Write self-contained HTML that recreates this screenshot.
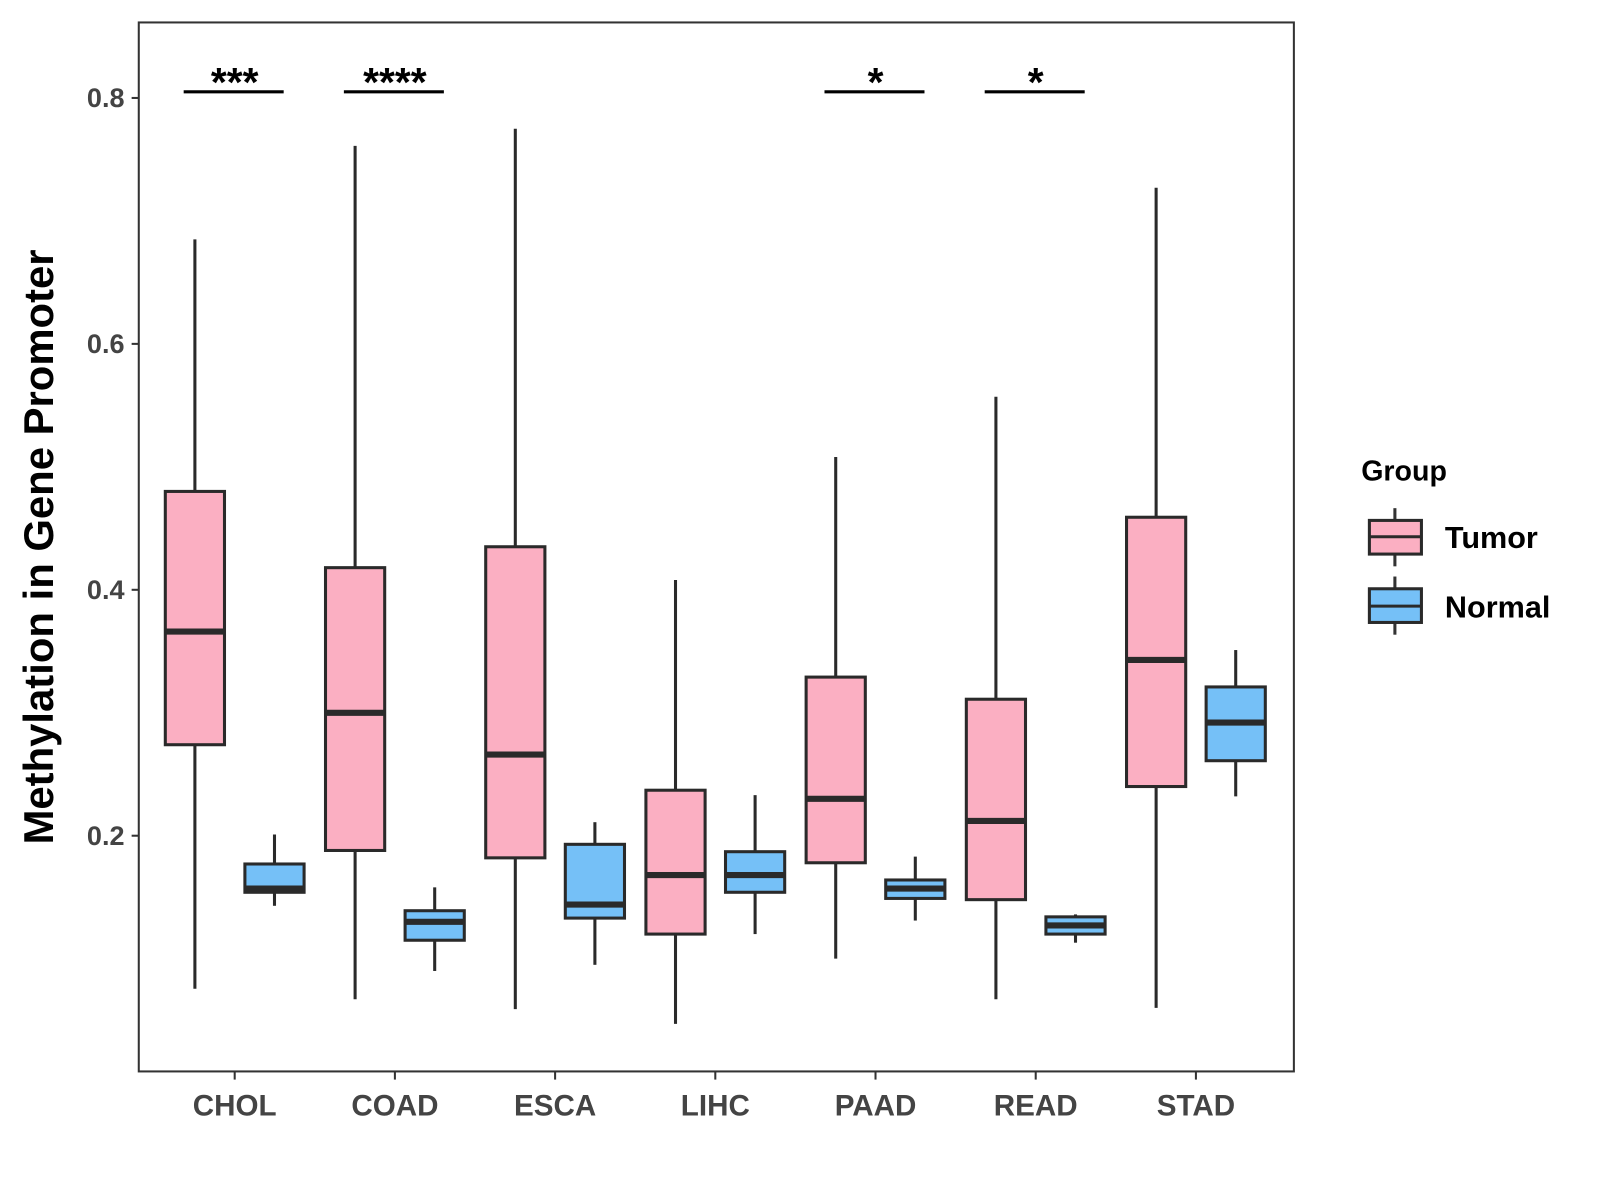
<!DOCTYPE html>
<html><head><meta charset="utf-8"><style>html,body{margin:0;padding:0;background:#fff}svg{display:block}text{font-family:"Liberation Sans",Arial,sans-serif;font-weight:bold}</style></head>
<body>
<svg id="chart" width="1600" height="1200" viewBox="0 0 1568 1176" xmlns="http://www.w3.org/2000/svg">
<rect x="0" y="0" width="1568" height="1176" fill="#fff"/>
<rect x="136" y="22" width="1132" height="1028" fill="none" stroke="#333" stroke-width="2"/>
<g id="yaxis"></g>
<g id="xaxis"></g>
<g id="boxes"></g>
<g id="sig"></g>
<text x="52" y="536" font-size="41" fill="#000" text-anchor="middle" transform="rotate(-90 52 536)">Methylation in Gene Promoter</text>
<g>
<text x="1334" y="471" font-size="28" fill="#000">Group</text>
<g>
<line x1="1367" y1="498" x2="1367" y2="555" stroke="#333" stroke-width="3"/>
<rect x="1342" y="510" width="51" height="33" fill="#FBAFC2" stroke="#2a2a2a" stroke-width="3"/>
<line x1="1342" y1="526" x2="1393" y2="526" stroke="#2a2a2a" stroke-width="3"/>
<text x="1416" y="537" font-size="30" fill="#000">Tumor</text>
</g>
<g>
<line x1="1367" y1="565" x2="1367" y2="622" stroke="#333" stroke-width="3"/>
<rect x="1342" y="577" width="51" height="33" fill="#75C0F7" stroke="#2a2a2a" stroke-width="3"/>
<line x1="1342" y1="594" x2="1393" y2="594" stroke="#2a2a2a" stroke-width="3"/>
<text x="1416" y="605" font-size="30" fill="#000">Normal</text>
</g>
</g>
</svg>
<script>
const categories = ["CHOL","COAD","ESCA","LIHC","PAAD","READ","STAD"];
// [low, q1, median, q3, high]
const tumorStats = [
 [0.0755,0.274,0.366,0.480,0.685],
 [0.067,0.188,0.300,0.418,0.761],
 [0.059,0.182,0.266,0.435,0.775],
 [0.047,0.120,0.168,0.237,0.408],
 [0.100,0.178,0.230,0.329,0.508],
 [0.067,0.148,0.212,0.311,0.557],
 [0.060,0.240,0.343,0.459,0.727]
];
const normalStats = [
 [0.143,0.154,0.157,0.177,0.201],
 [0.090,0.115,0.130,0.139,0.158],
 [0.095,0.133,0.144,0.193,0.211],
 [0.120,0.154,0.168,0.187,0.233],
 [0.131,0.149,0.157,0.164,0.183],
 [0.113,0.120,0.127,0.134,0.136],
 [0.232,0.261,0.292,0.321,0.351]
];
const yTicks = [0.2,0.4,0.6,0.8];
const sigLabels = ["***","****","","","*","*",""];
const sigY = 0.805;

const NS="http://www.w3.org/2000/svg";
const yScale = v => 1060 - v*1205;
const xScale = i => 230 + i*157;
function mk(tag, attrs, parent){const e=document.createElementNS(NS,tag);for(const k in attrs)e.setAttribute(k,attrs[k]);parent.appendChild(e);return e;}
const yaxis=document.getElementById('yaxis'), xaxis=document.getElementById('xaxis'), boxes=document.getElementById('boxes'), sig=document.getElementById('sig');
yTicks.forEach(t=>{
  const y=yScale(t);
  const l=mk('line',{x1:129,x2:136,y1:y,y2:y,stroke:'#333','stroke-width':2},yaxis);
  
  
  const tx=mk('text',{x:122,y:y+9,'font-size':26.5,fill:'#444','text-anchor':'end'},yaxis);
  tx.textContent=t.toFixed(1);
  
  
});
categories.forEach((c,i)=>{
  const x=xScale(i);
  const l=mk('line',{x1:x,x2:x,y1:1050,y2:1058,stroke:'#333','stroke-width':2},xaxis);
  
  
  const tx=mk('text',{x:x,y:1093,'font-size':29,fill:'#444','text-anchor':'middle'},xaxis);
  tx.textContent=c;
  
  
});
function drawBox(s, cx, fill, name){
  const g=mk('g',{},boxes);
  
  
  const w=29;
  mk('line',{x1:cx,x2:cx,y1:yScale(s[4]),y2:yScale(s[3]),stroke:'#2a2a2a','stroke-width':3},g);
  mk('line',{x1:cx,x2:cx,y1:yScale(s[1]),y2:yScale(s[0]),stroke:'#2a2a2a','stroke-width':3},g);
  mk('rect',{x:cx-w,y:yScale(s[3]),width:2*w,height:yScale(s[1])-yScale(s[3]),fill:fill,stroke:'#2a2a2a','stroke-width':3},g);
  mk('line',{x1:cx-w,x2:cx+w,y1:yScale(s[2]),y2:yScale(s[2]),stroke:'#2a2a2a','stroke-width':6},g);
}
categories.forEach((c,i)=>{
  drawBox(tumorStats[i], xScale(i)-39, '#FBAFC2', 'box-tumor-'+c.toLowerCase());
  drawBox(normalStats[i], xScale(i)+39, '#75C0F7', 'box-normal-'+c.toLowerCase());
  if(sigLabels[i]){
    const y=yScale(sigY);
    const l=mk('line',{x1:xScale(i)-50,x2:xScale(i)+48,y1:y,y2:y,stroke:'#000','stroke-width':3},sig);
    
    
    const t=mk('text',{x:xScale(i),y:y+4,'font-size':40,fill:'#000','text-anchor':'middle'},sig);
    t.textContent=sigLabels[i];
    
    
  }
});
</script>
</body></html>
